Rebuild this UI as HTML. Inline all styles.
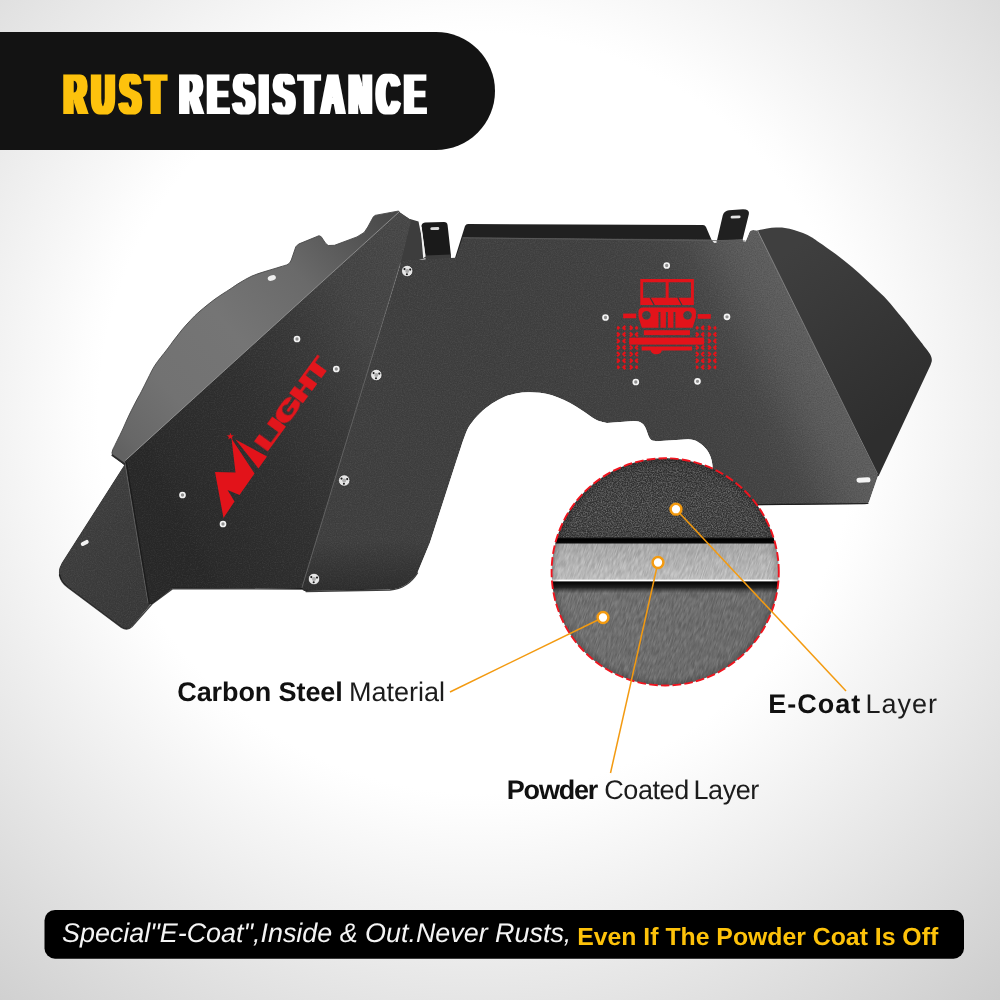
<!DOCTYPE html>
<html lang="en">
<head>
<meta charset="utf-8">
<title>Rust Resistance</title>
<style>
  html, body { margin: 0; padding: 0; }
  body { width: 1000px; height: 1000px; overflow: hidden; background: #fff; font-family: "Liberation Sans", sans-serif; }
  #stage { position: relative; width: 1000px; height: 1000px; overflow: hidden;
    background:
      radial-gradient(circle 800px at 479px 413px, #ffffff 0px, #ffffff 380px, #fdfdfd 400px, #cbcbcb 800px); }
  svg { position: absolute; left: 0; top: 0; display: block; }
  svg text { text-rendering: geometricPrecision; }
  svg text { font-family: "Liberation Sans", sans-serif; }
</style>
</head>
<body>
<div id="stage">
<svg id="art" width="1000" height="1000" viewBox="0 0 1000 1000" style="will-change:transform">
  <defs>
    <linearGradient id="gFlangeL" gradientUnits="userSpaceOnUse" x1="395" y1="215" x2="125" y2="455">
      <stop offset="0" stop-color="#484848"/>
      <stop offset="0.08" stop-color="#505050"/>
      <stop offset="0.31" stop-color="#6a6a6a"/>
      <stop offset="0.55" stop-color="#757575"/>
      <stop offset="0.79" stop-color="#727272"/>
      <stop offset="0.96" stop-color="#676767"/>
      <stop offset="1" stop-color="#626262"/>
    </linearGradient>
    <linearGradient id="gFlangeR" gradientUnits="userSpaceOnUse" x1="790" y1="250" x2="910" y2="410">
      <stop offset="0" stop-color="#3f3f3f"/>
      <stop offset="0.25" stop-color="#3b3b3b"/>
      <stop offset="1" stop-color="#2e2e2e"/>
    </linearGradient>
    <linearGradient id="gPanelR" gradientUnits="userSpaceOnUse" x1="815" y1="350" x2="545.6" y2="482">
      <stop offset="0" stop-color="#5e5e5e"/>
      <stop offset="0.07" stop-color="#5b5b5b"/>
      <stop offset="0.12" stop-color="#575757"/>
      <stop offset="0.18" stop-color="#505050"/>
      <stop offset="0.24" stop-color="#494949"/>
      <stop offset="0.32" stop-color="#454545"/>
      <stop offset="0.5" stop-color="#424242"/>
      <stop offset="1" stop-color="#404040"/>
    </linearGradient>
    <linearGradient id="gPanelL" gradientUnits="userSpaceOnUse" x1="200" y1="560" x2="486" y2="417">
      <stop offset="0" stop-color="#292929"/>
      <stop offset="0.03" stop-color="#2b2b2b"/>
      <stop offset="0.36" stop-color="#313131"/>
      <stop offset="0.58" stop-color="#393939"/>
      <stop offset="0.78" stop-color="#444444"/>
      <stop offset="0.94" stop-color="#474747"/>
      <stop offset="1" stop-color="#484848"/>
    </linearGradient>
    <linearGradient id="gLegShade" gradientUnits="userSpaceOnUse" x1="0" y1="540" x2="0" y2="592">
      <stop offset="0" stop-color="#000000" stop-opacity="0"/>
      <stop offset="1" stop-color="#000000" stop-opacity="0.28"/>
    </linearGradient>
    <linearGradient id="gLowL" gradientUnits="userSpaceOnUse" x1="70" y1="540" x2="150" y2="600">
      <stop offset="0" stop-color="#3f3f3f"/>
      <stop offset="1" stop-color="#3a3a3a"/>
    </linearGradient>
    <linearGradient id="gTopLayer" x1="0" y1="0" x2="0" y2="1">
      <stop offset="0" stop-color="#3a3a3a"/>
      <stop offset="0.6" stop-color="#424242"/>
      <stop offset="1" stop-color="#3e3e3e"/>
    </linearGradient>
    <linearGradient id="gMidLayer" x1="0" y1="0" x2="0" y2="1">
      <stop offset="0" stop-color="#aeaeae"/>
      <stop offset="0.5" stop-color="#bcbcbc"/>
      <stop offset="1" stop-color="#c8c8c8"/>
    </linearGradient>
    <linearGradient id="gBotLayer" x1="0" y1="0" x2="1" y2="0.6">
      <stop offset="0" stop-color="#727272"/>
      <stop offset="0.5" stop-color="#6e6e6e"/>
      <stop offset="1" stop-color="#6a6a6a"/>
    </linearGradient>
    <linearGradient id="gShadow1" x1="0" y1="0" x2="0" y2="1">
      <stop offset="0" stop-color="#1a1a1a"/>
      <stop offset="0.3" stop-color="#000000"/>
      <stop offset="1" stop-color="#0a0a0a"/>
    </linearGradient>
    <linearGradient id="gShadow2" x1="0" y1="0" x2="0" y2="1">
      <stop offset="0" stop-color="#000000" stop-opacity="1"/>
      <stop offset="0.45" stop-color="#111111" stop-opacity="0.95"/>
      <stop offset="1" stop-color="#333333" stop-opacity="0"/>
    </linearGradient>
    <radialGradient id="gVignette" gradientUnits="userSpaceOnUse" cx="665.2" cy="571.9" r="120.5">
      <stop offset="0.88" stop-color="#000000" stop-opacity="0"/>
      <stop offset="1" stop-color="#000000" stop-opacity="0.45"/>
    </radialGradient>
    <filter id="grainCoarse" x="0" y="0" width="100%" height="100%" color-interpolation-filters="sRGB">
      <feTurbulence type="fractalNoise" baseFrequency="0.8" numOctaves="2" seed="7" result="n"/>
      <feColorMatrix in="n" type="matrix" values="2.2 0 0 0 -0.75  2.2 0 0 0 -0.75  2.2 0 0 0 -0.75  0 0 0 0 1"/>
      <feComposite in2="SourceGraphic" operator="in"/>
    </filter>
    <filter id="grainBrush" x="0" y="0" width="100%" height="100%" color-interpolation-filters="sRGB">
      <feTurbulence type="fractalNoise" baseFrequency="0.9 0.12" numOctaves="2" seed="11" result="n"/>
      <feColorMatrix in="n" type="matrix" values="2 0 0 0 -0.55  2 0 0 0 -0.55  2 0 0 0 -0.55  0 0 0 0 1"/>
      <feComposite in2="SourceGraphic" operator="in"/>
    </filter>
    <clipPath id="clipMid"><rect x="548" y="543" width="236" height="37"/></clipPath>
    <clipPath id="clipBot"><rect x="548" y="587" width="236" height="102"/></clipPath>
    <filter id="grainP" x="0" y="0" width="100%" height="100%" color-interpolation-filters="sRGB">
      <feTurbulence type="fractalNoise" baseFrequency="0.85" numOctaves="2" seed="5" result="n"/>
      <feColorMatrix in="n" type="matrix" values="0 0 0 0 1  0 0 0 0 1  0 0 0 0 1  0.16 0 0 0 -0.08" result="w"/>
      <feColorMatrix in="n" type="matrix" values="0 0 0 0 0  0 0 0 0 0  0 0 0 0 0  -0.3 0 0 0 0.15" result="k"/>
      <feMerge result="m"><feMergeNode in="SourceGraphic"/><feMergeNode in="w"/><feMergeNode in="k"/></feMerge>
      <feComposite in="m" in2="SourceGraphic" operator="in"/>
    </filter>
    <filter id="fatLogo" x="-10%" y="-40%" width="120%" height="180%"><feMorphology operator="dilate" radius="1.6 0"/></filter>
    <filter id="fatX" x="-5%" y="-20%" width="110%" height="140%"><feMorphology operator="dilate" radius="2.5 0"/></filter>
    <clipPath id="clipCircle"><circle cx="665.2" cy="571.9" r="113.6"/></clipPath>
  </defs>

  <!-- PRODUCT -->
  <g id="product">
    <!-- back tabs -->
    <path fill="#1a1a1a" d="M421.4,226.5 Q421.4,222.8 425,222.4 L444,222 Q447.2,222 447.6,225.2 L450.9,255 L451,261 L426,261 L425.4,256 Z"/>
    <path fill="#3c3c3c" d="M425.4,255.6 L450.9,254.6 L451,261 L426,261 Z"/>
    <rect x="430.3" y="227.2" width="9" height="2.8" rx="1.4" fill="#d9d9d9" transform="rotate(-2 434.8 228.6)"/>
    <path fill="#202020" d="M716.6,242 L722.8,215.2 Q724.5,210.6 729,210.3 L743,209.2 Q749.8,209.4 748.9,214 L742,242 Z"/>
    <rect x="730.6" y="215.6" width="10" height="2.8" rx="1.4" fill="#e4e4e4" transform="rotate(-3 735.6 217)"/>
    <!-- top strip -->
    <path fill="#202020" d="M468,224 L703,225 Q705,225 706,227 L712,241 L455,258 L465,226 Q466,224 468,224 Z"/>
    <!-- left flange -->
    <path fill="url(#gFlangeL)" stroke="#474747" stroke-width="0.9" stroke-linejoin="round" d="M398.6,211.0 L374.9,215.4 L373.2,217.1 L367.8,227.0 L364.2,232.4 L357.0,236.9 L334.5,245.3 L328.2,245.5 L325.5,243.2 L321.2,236.7 L319.0,235.7 L298.5,244.1 L295.8,246.8 L291.3,260.0 L289.5,263.2 L286.8,264.9 C285.0,265.4 279.8,267.0 276.0,268.2 C272.2,269.4 268.0,270.5 264.0,271.8 C260.0,273.1 256.0,274.2 252.0,276.0 C248.0,277.8 243.7,280.4 240.0,282.6 C236.3,284.8 234.2,286.4 230.0,289.2 C225.8,291.9 220.0,295.5 215.0,299.1 C210.0,302.8 204.1,307.6 200.0,311.1 C195.9,314.6 193.5,317.2 190.5,320.3 C187.5,323.4 184.6,326.7 181.8,330.0 C179.1,333.3 176.5,336.7 174.0,340.0 C171.5,343.3 169.8,345.8 166.6,350.0 C163.4,354.2 158.1,360.4 155.0,365.2 C151.9,370.0 150.1,374.3 147.8,378.7 C145.6,383.1 143.6,387.2 141.5,391.3 C139.4,395.4 137.4,398.6 135.2,403.0 C132.9,407.4 130.1,412.9 128.0,417.4 C125.9,421.9 124.2,426.2 122.4,430.0 C120.6,433.8 119.0,437.0 117.4,440.2 C115.8,443.4 113.7,447.8 112.9,449.3 Q110.8,453.5 113.2,455.8 L126,466 L140,460 L402,218 Z"/>
    <ellipse cx="271.8" cy="278" rx="4.2" ry="2.6" fill="#efefef" transform="rotate(-18 271.8 278)"/>
    <!-- right flange -->
    <path fill="url(#gFlangeR)" d="M757.6,230.6 C759.2,230.2 763.9,229.0 767.0,228.5 C770.1,228.0 773.0,227.7 776.0,227.6 C779.0,227.5 782.0,227.5 785.0,227.9 C788.0,228.3 791.0,229.1 794.0,229.9 C797.0,230.8 800.0,231.7 803.0,233.0 C806.0,234.3 809.2,235.8 812.0,237.5 C814.8,239.2 816.0,240.2 820.0,243.0 C824.0,245.8 830.7,250.2 836.0,254.2 C841.3,258.2 846.7,262.5 852.0,267.0 C857.3,271.5 862.7,276.5 868.0,281.4 C873.3,286.3 879.3,291.8 884.0,296.6 C888.7,301.4 892.7,306.5 896.0,310.4 C899.3,314.3 901.3,316.7 904.0,320.0 C906.7,323.3 909.3,326.9 912.0,330.4 C914.7,333.9 917.3,337.3 920.0,340.8 C922.7,344.3 926.7,349.5 928.0,351.2 Q932.6,357 931.7,361.5 Q931,365 928,370.4 L878.6,476 L872,477 Z"/>
    <!-- thin strip between panels -->
    <path fill="#3d3d3d" d="M410,219 L418.5,221.5 L426,258 L398,266 Z"/>
    <!-- lower-left panel -->
    <path filter="url(#grainP)" fill="url(#gLowL)" d="M126,462 L61.5,563 Q56.5,571.5 60.5,579 Q63,584 68,587.5 L121.5,627.5 Q127.5,631 132,626 L152,603 L150,585 Z"/>
    <rect x="80.5" y="541" width="8.5" height="4" rx="2" fill="#f2f2f2" transform="rotate(-28 84.7 543)"/>
    <!-- left main panel -->
    <path filter="url(#grainP)" fill="url(#gPanelL)" d="M399,211.5 L411.5,220 L401,262 L303,589 L173,588 L152,604 L147.5,604.5 L124.8,461 Z"/>
    <!-- right main panel -->
    <path filter="url(#grainP)" fill="url(#gPanelR)" d="M400,265 Q401,260.6 405.5,260.2 L455.8,257.6 L462.6,237.2 L711,239.2 L714,242.4 L716.4,242.4 L717,240 L742,239 L743.6,241.6 L745.6,241.6 L749.6,231.8 Q750.5,230.2 753,230 L757.6,230.4 L878,476 L869,502 Q868,504.6 865,504.6 L712.5,505.6 L712.5,466 C712,458 708.5,451 704.8,447.6 C701,443.5 696,439.3 688,439.2 L656.5,441.2 C652,441.2 650,439.5 648.5,436 L646,429 C644.2,424 641,421 634,421 L606.8,423.1 C605.2,422.6 600.1,421.7 597.0,420.3 C593.9,418.9 591.5,416.9 588.0,414.6 C584.5,412.3 580.0,409.0 576.0,406.6 C572.0,404.2 568.0,401.9 564.0,400.0 C560.0,398.1 556.0,396.4 552.0,395.2 C548.0,394.0 544.0,393.3 540.0,392.8 C536.0,392.3 532.0,392.1 528.0,392.2 C524.0,392.3 520.0,392.6 516.0,393.4 C512.0,394.2 508.0,395.3 504.0,397.0 C500.0,398.7 496.0,400.9 492.0,403.6 C488.0,406.3 483.7,409.6 480.0,413.2 C476.3,416.8 472.5,421.3 470.0,425.0 C467.5,428.7 466.7,431.3 465.0,435.5 C463.3,439.7 461.3,446.1 460.0,450.0 C458.7,453.9 457.5,457.5 457.0,459.0 L430,542.5 L417.5,572.5 Q408,588 390,589.5 L306,591 Q301,591 301.8,586.5 Z"/>
    <path d="M420.6,227 L421.6,226.6 L425.6,256.6 L423.2,258.2 Z" fill="#f3f3f3"/>
    <path fill="url(#gLegShade)" d="M317,540 L431,540 L417.5,572.5 Q408,588 390,589.5 L306,591 Q301,591 301.8,586.5 Z"/>
    <!-- fold highlights -->
    <g fill="none" stroke-linecap="round">
      <path d="M399,212 L125.5,460.3" stroke="#a0a0a0" stroke-width="0.9" opacity="0.85"/>
      <path d="M463,237.8 L745,241" stroke="#5c5c5c" stroke-width="0.9"/>
      <path d="M757.5,230.5 L877.5,474" stroke="#8a8a8a" stroke-width="1" opacity="0.85"/>
      <path d="M400.5,263 L302,587.5" stroke="#6a6a6a" stroke-width="1" opacity="0.8"/>
      <path d="M125,463 L148,603" stroke="#6a6a6a" stroke-width="1" opacity="0.8"/><path d="M126.3,462.5 L149.3,603" stroke="#151515" stroke-width="1.2" opacity="0.7"/>
      <path d="M59.5,575 Q61,582.5 68,587.5 L121.5,627.5 Q127.5,631 132,626.5 L152,604 L173,588.5 L302,589 M306,591.5 L390,590 Q408,588.5 417.5,573" stroke="#0e0e0e" stroke-width="1.3" opacity="0.8"/><path d="M112.3,455.2 L124.6,464" stroke="#2c2c2c" stroke-width="1.8"/>
      <path d="M868,503.500 L712,505.300" stroke="#111" stroke-width="1.2" opacity="0.8"/>
    </g>
    <rect x="856.5" y="477.500" width="14" height="5" rx="2.5" fill="#f4f4f4" transform="rotate(-2 863 480)"/>
  </g>

  <!-- SCREWS -->
  <g id="screws">
    <g fill="#e6e6e6" stroke="#1f1f1f" stroke-width="0.7">
      <circle cx="407.2" cy="271.0" r="5.7"/>
      <circle cx="376.3" cy="375.0" r="5.7"/>
      <circle cx="344.2" cy="480.5" r="5.7"/>
      <circle cx="314.0" cy="579.0" r="5.7"/>
    </g>
    <g fill="#a9a9a9">
      <circle cx="407.2" cy="271.0" r="2"/>
      <circle cx="376.3" cy="375.0" r="2"/>
      <circle cx="344.2" cy="480.5" r="2"/>
      <circle cx="314.0" cy="579.0" r="2"/>
    </g>
    <g fill="#1a1a1a">
      <circle cx="410.2" cy="269.6" r="1.05"/>
      <circle cx="406.9" cy="274.3" r="1.05"/>
      <circle cx="404.5" cy="269.1" r="1.05"/>
      <circle cx="379.3" cy="373.6" r="1.05"/>
      <circle cx="376.0" cy="378.3" r="1.05"/>
      <circle cx="373.6" cy="373.1" r="1.05"/>
      <circle cx="347.2" cy="479.1" r="1.05"/>
      <circle cx="343.9" cy="483.8" r="1.05"/>
      <circle cx="341.5" cy="478.6" r="1.05"/>
      <circle cx="317.0" cy="577.6" r="1.05"/>
      <circle cx="313.7" cy="582.3" r="1.05"/>
      <circle cx="311.3" cy="577.1" r="1.05"/>
    </g>
    <g fill="#8f8f8f" stroke="#f3f3f3" stroke-width="1.7">
      <circle cx="297.0" cy="339.0" r="2.5"/>
      <circle cx="336.3" cy="369.0" r="2.5"/>
      <circle cx="182.5" cy="495.0" r="2.5"/>
      <circle cx="223.0" cy="524.0" r="2.5"/>
      <circle cx="666.7" cy="265.5" r="2.5"/>
      <circle cx="605.5" cy="317.5" r="2.5"/>
      <circle cx="727.0" cy="316.8" r="2.5"/>
      <circle cx="635.8" cy="382.0" r="2.5"/>
      <circle cx="697.5" cy="381.3" r="2.5"/>
    </g>
  </g>

  <!-- LOGO -->
  <g id="logo" fill="#e2131a">
    <title>Nilight</title>
    <path d="M231.500,438.500 L254.500,473.500 L239.500,495 L227.500,490 L234.500,501.500 L223.500,518 L215,472 L235.500,472.500 Z"/>
    <path d="M230.400,432.800 L231.300,435.300 L234,435.400 L231.900,437 L232.600,439.600 L230.400,438.100 L228.200,439.600 L228.900,437 L226.800,435.400 L229.500,435.300 Z"/>
    <path d="M235.500,439.500 L267,456.500 L258.500,468.500 Z"/>
    <g transform="translate(267.6,451.6) rotate(-53.8)" filter="url(#fatLogo)">
      <text transform="scale(1.4,1)" x="0" y="0" font-size="24.6" font-weight="bold" letter-spacing="0.5">LIGHT</text>
    </g>
  </g>

  <!-- JEEP ICON -->
  <g id="jeep" transform="translate(600,260) scale(0.13)" fill="#e2131a">
    <path fill-rule="evenodd" d="M310,147 H722 V347 H310 Z M332,172 H505 V290 H332 Z M528,172 H700 V290 H528 Z"/>
    <path d="M385,288 L418,348 M598,288 L631,348" stroke="#3a3a3a" stroke-width="9" fill="none"/>
    <path fill-rule="evenodd" d="M330,365 H705 Q738,365 738,400 V440 L712,522 H322 L296,440 V400 Q296,365 330,365 Z M357,392 a33,33 0 1 0 0.100,0 Z M673,392 a33,33 0 1 0 0.100,0 Z M450,400 h15 v122 h-15 Z M507,400 h15 v122 h-15 Z M565,400 h15 v122 h-15 Z"/>
    <rect x="178" y="412" width="100" height="36"/>
    <rect x="752" y="416" width="100" height="36"/>
    <rect x="337" y="540" width="355" height="38"/>
    <rect x="225" y="597" width="575" height="54"/>
    <path d="M320,665 H708 V697 H475 A42,28 0 0 1 391,697 H320 Z"/>
<path d="M133,512 L145,522 L133,532 M131,558 L147,572 L131,588 M131,608 L147,623 L131,638 M131,658 L147,674 L131,688 M131,709 L147,724 L131,739 M131,760 L147,774 L131,790 M133,815 L145,825 L133,835 M195,507 L179,522 L195,537 M195,558 L179,572 L195,588 M195,608 L179,623 L195,638 M195,658 L179,674 L195,688 M195,709 L179,724 L195,739 M195,760 L179,774 L195,790 M195,810 L179,825 L195,840 M230,507 L246,522 L230,537 M230,558 L246,572 L230,588 M230,608 L246,623 L230,638 M230,658 L246,674 L230,688 M230,709 L246,724 L230,739 M230,760 L246,774 L230,790 M230,810 L246,825 L230,840 M289,512 L277,522 L289,532 M291,558 L275,572 L291,588 M291,608 L275,623 L291,638 M291,658 L275,674 L291,688 M291,709 L275,724 L291,739 M291,760 L275,774 L291,790 M289,815 L277,825 L289,835 M740,512 L752,522 L740,532 M738,558 L754,572 L738,588 M738,608 L754,623 L738,638 M738,658 L754,674 L738,688 M738,709 L754,724 L738,739 M738,760 L754,774 L738,790 M740,815 L752,825 L740,835 M800,507 L784,522 L800,537 M800,558 L784,572 L800,588 M800,608 L784,623 L800,638 M800,658 L784,674 L800,688 M800,709 L784,724 L800,739 M800,760 L784,774 L800,790 M800,810 L784,825 L800,840 M832,507 L848,522 L832,537 M832,558 L848,572 L832,588 M832,608 L848,623 L832,638 M832,658 L848,674 L832,688 M832,709 L848,724 L832,739 M832,760 L848,774 L832,790 M832,810 L848,825 L832,840 M892,512 L880,522 L892,532 M894,558 L878,572 L894,588 M894,608 L878,623 L894,638 M894,658 L878,674 L894,688 M894,709 L878,724 L894,739 M894,760 L878,774 L894,790 M892,815 L880,825 L892,835" fill="none" stroke="#e2131a" stroke-width="17" stroke-linejoin="round" stroke-linecap="butt"/>

  </g>

  <!-- TITLE BAR -->
  <path fill="#131313" d="M0,32 H436 A59,59 0 0 1 436,150 H0 Z"/>
  <g filter="url(#fatX)">
    <text transform="translate(64.2,113.8) scale(0.53,1)" x="0" y="0" font-size="57.6" font-weight="bold" letter-spacing="11" fill="#fdc20a">RUST</text>
    <text transform="translate(180,113.8) scale(0.53,1)" x="0" y="0" font-size="57.6" font-weight="bold" letter-spacing="10.6" fill="#ffffff">RESISTANCE</text>
  </g>

  <!-- CIRCLE DETAIL -->
  <g clip-path="url(#clipCircle)">
    <rect x="548" y="455" width="236" height="84" fill="url(#gTopLayer)"/>
    <rect x="548" y="455" width="236" height="84" fill="#808080" filter="url(#grainCoarse)" opacity="0.22"/>
    <rect x="548" y="543" width="236" height="38" fill="url(#gMidLayer)"/>
    <g clip-path="url(#clipMid)"><rect x="520" y="500" width="300" height="130" fill="#808080" filter="url(#grainBrush)" opacity="0.13" transform="rotate(18 665 562)"/></g>
    <rect x="548" y="537.5" width="236" height="6" fill="url(#gShadow1)"/>
    <rect x="548" y="579.6" width="236" height="1.7" fill="#ffffff"/>
    <rect x="548" y="587" width="236" height="102" fill="url(#gBotLayer)"/>
    <g clip-path="url(#clipBot)"><rect x="500" y="540" width="340" height="200" fill="#808080" filter="url(#grainBrush)" opacity="0.12" transform="rotate(18 665 630)"/></g>
    <rect x="548" y="581.4" width="236" height="12" fill="url(#gShadow2)"/>
    <circle cx="665.2" cy="571.9" r="113.5" fill="none" stroke="url(#gVignette)" stroke-width="14" opacity="0.9"/>
  </g>
  <circle cx="665.2" cy="571.9" r="113.6" fill="none" stroke="#f0141e" stroke-width="1.9" stroke-dasharray="8.6 3.2" stroke-dashoffset="3"/>

  <!-- CALLOUTS -->
  <g stroke="#f39a10" stroke-width="1.5" fill="none">
    <line x1="676" y1="509.2" x2="846" y2="691"/>
    <line x1="658" y1="562.5" x2="610.5" y2="773"/>
    <line x1="603" y1="617.5" x2="450" y2="692"/>
  </g>
  <g fill="#ffffff" stroke="#f39a10" stroke-width="2.5">
    <circle cx="676" cy="509.2" r="5.4"/>
    <circle cx="658" cy="562.5" r="5.4"/>
    <circle cx="603" cy="617.5" r="5.4"/>
  </g>

  <!-- LABELS -->
  <g fill="#111111" font-size="27">
    <text x="177.3" y="701"><tspan font-weight="bold" letter-spacing="-0.1">Carbon Steel</tspan> <tspan x="349" fill="#1c1c1c">Material</tspan></text>
    <text x="768.2" y="712.7" letter-spacing="1"><tspan font-weight="bold">E-Coat</tspan> <tspan x="865.5" fill="#1c1c1c">Layer</tspan></text>
    <text x="506.8" y="799.2"><tspan font-weight="bold" letter-spacing="-1.2">Powder</tspan> <tspan x="604.2" fill="#1c1c1c" letter-spacing="-0.4">Coated</tspan> <tspan x="693.6" fill="#1c1c1c" letter-spacing="-0.5">Layer</tspan></text>
  </g>

  <!-- BOTTOM BAR -->
  <rect x="44.5" y="910" width="919.5" height="48.7" rx="10.5" ry="10.5" fill="#000"/>
  <text x="62" y="942.2" font-size="26.9" font-style="italic" fill="#f4f4f4">Special"E-Coat",Inside &amp; Out.Never Rusts,</text>
  <text x="577.2" y="944.8" font-size="24.8" font-weight="bold" fill="#fdc20a">Even If The Powder Coat Is Off</text>
</svg>
</div>
</body>
</html>
